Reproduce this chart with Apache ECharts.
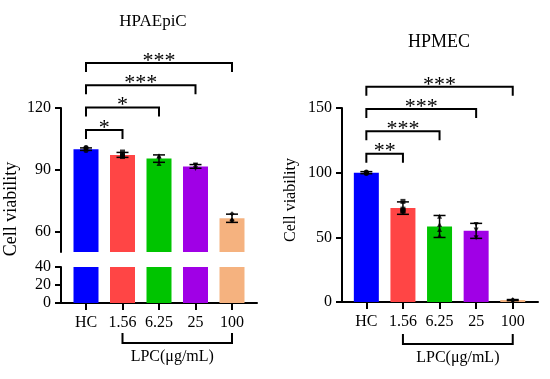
<!DOCTYPE html>
<html><head><meta charset="utf-8">
<script src="https://cdn.jsdelivr.net/npm/echarts@6/dist/echarts.min.js"></script>
<style>html,body{margin:0;padding:0;background:#fff}#c{width:550px;height:379px}</style>
</head><body><div id="c"></div>
<script>
// ---- data ----
const categories = ['HC', '1.56', '6.25', '25', '100'];
const xName = 'LPC(μg/mL)';
const yName = 'Cell viability';
// HPAEpiC
const epiTitle = 'HPAEpiC';
const epiMeans = [100.0, 97.2, 95.4, 91.6, 66.4];
const epiSD = [0.6, 1.2, 1.8, 0.9, 2.0];
const epiPoints = [[100.8, 100.5, 99.3], [98.6, 96.8, 96.4], [96.8, 96.5, 93.0], [92.3, 92.0, 90.6], [68.6, 65.6, 65.2]];
const epiUpperTicks = [60, 90, 120];
const epiLowerTicks = [0, 20, 40];
const epiSig = [[0, 1, '*'], [0, 2, '*'], [0, 3, '***'], [0, 4, '***']];
// HPMEC
const mecTitle = 'HPMEC';
const mecMeans = [100.0, 72.6, 58.4, 55.0, 1.5];
const mecSD = [0.8, 4.8, 8.5, 5.8, 0.4];
const mecPoints = [[100.6, 100.2, 99.7, 99.4], [77.8, 71.8, 70.6, 70.2], [66.3, 60.0, 56.0, 51.4], [60.0, 55.6, 49.6], [1.8, 1.4, 1.2]];
const mecTicks = [0, 50, 100, 150];
const mecSig = [[0, 1, '**'], [0, 2, '***'], [0, 3, '***'], [0, 4, '***']];

// ---- style ----
const colors = ['#0000ff', '#ff4545', '#00c400', '#a000e6', '#f5b27f'];
const symbols = [['circle', 0], ['rect', 0], ['triangle', 0], ['triangle', 180], ['diamond', 0]];
const FONT = '"Liberation Serif", "Times New Roman", serif';
const catIdx = categories.map((c, i) => i);

function xAxisCfg(gridIndex, min, max, show) {
  return {
    type: 'value', gridIndex, min, max, show,
    axisLine: { show, onZero: false, lineStyle: { color: '#000', width: 2 } },
    axisTick: { show, customValues: catIdx, length: 7, lineStyle: { color: '#000', width: 2 } },
    axisLabel: { show, customValues: catIdx, margin: 12, formatter: v => categories[Math.round(v)],
      fontFamily: FONT, fontSize: 16, color: '#000' },
    splitLine: { show: false }
  };
}
function yAxisCfg(gridIndex, min, max, ticks) {
  return {
    type: 'value', gridIndex, min, max,
    axisLine: { show: true, onZero: false, lineStyle: { color: '#000', width: 2 } },
    axisTick: { show: true, customValues: ticks, length: 6, lineStyle: { color: '#000', width: 2 } },
    axisLabel: { customValues: ticks, margin: 10, fontFamily: FONT, fontSize: 16, color: '#000' },
    splitLine: { show: false }
  };
}
function barSeries(xi, yi, means) {
  return {
    type: 'bar', xAxisIndex: xi, yAxisIndex: yi, barWidth: 25, clip: true, silent: true,
    data: means.map((v, i) => ({ value: [i, v], itemStyle: { color: colors[i] } }))
  };
}
function errSeries(xi, yi, means, sd) {
  return {
    type: 'custom', xAxisIndex: xi, yAxisIndex: yi, silent: true, z: 5,
    data: means.map((m, i) => [i, m, sd[i]]),
    renderItem: function (params, api) {
      const x = api.value(0), m = api.value(1), s = api.value(2);
      const t = api.coord([x, m + s]), b = api.coord([x, m - s]);
      const st = { stroke: '#000', lineWidth: 1.5 };
      return { type: 'group', children: [
        { type: 'line', shape: { x1: t[0], y1: t[1], x2: b[0], y2: b[1] }, style: st },
        { type: 'line', shape: { x1: t[0] - 6, y1: t[1], x2: t[0] + 6, y2: t[1] }, style: st },
        { type: 'line', shape: { x1: b[0] - 6, y1: b[1], x2: b[0] + 6, y2: b[1] }, style: st }
      ] };
    }
  };
}
function pointSeries(xi, yi, pts) {
  const data = [];
  pts.forEach((arr, i) => arr.forEach(v => data.push({
    value: [i, v], symbol: symbols[i][0], symbolRotate: symbols[i][1]
  })));
  return { type: 'scatter', xAxisIndex: xi, yAxisIndex: yi, symbolSize: 5, silent: true, z: 6,
    itemStyle: { color: '#000' }, data };
}
function sigSeries(xi, yi, sig, means, sd) {
  const top = Math.max(...means.map((m, i) => m + sd[i]));
  return {
    type: 'custom', xAxisIndex: xi, yAxisIndex: yi, silent: true, clip: false, z: 7,
    data: sig.map((s, k) => [s[0], s[1], k]),
    renderItem: function (params, api) {
      const a = api.value(0), b = api.value(1), k = api.value(2);
      const label = sig[k][2];
      const base = api.coord([0, top])[1] - 18;
      const y = base - k * 22.3;
      const xa = api.coord([a, top])[0], xb = api.coord([b, top])[0];
      const st = { stroke: '#000', lineWidth: 2, fill: null };
      return { type: 'group', children: [
        { type: 'polyline', shape: { points: [[xa, y + 9], [xa, y], [xb, y], [xb, y + 9]] }, style: st },
        { type: 'text', style: { text: label, x: (xa + xb) / 2, y: y - 2, fill: '#000',
          font: '22px ' + FONT, align: 'center', verticalAlign: 'middle',
          textAlign: 'center', textVerticalAlign: 'middle' } }
      ] };
    }
  };
}
function groupSeries(xi, yi, dx, dy) {
  return {
    type: 'custom', xAxisIndex: xi, yAxisIndex: yi, silent: true, clip: false, z: 7,
    data: [[1, 4]],
    renderItem: function (params, api) {
      const a = api.coord([api.value(0), 0]), b = api.coord([api.value(1), 0]);
      const y0 = a[1];
      const st = { stroke: '#000', lineWidth: 2, fill: null };
      return { type: 'group', children: [
        { type: 'polyline', shape: { points: [[a[0], y0 + dy - 10], [a[0], y0 + dy], [b[0], y0 + dy], [b[0], y0 + dy - 10]] }, style: st },
        { type: 'text', style: { text: xName, x: (a[0] + b[0]) / 2 + dx, y: y0 + dy + 14, fill: '#000',
          font: '16px ' + FONT, align: 'center', verticalAlign: 'middle',
          textAlign: 'center', textVerticalAlign: 'middle' } }
      ] };
    }
  };
}

const chart = echarts.init(document.getElementById('c'), null, { renderer: 'canvas' });
chart.setOption({
  animation: false,
  backgroundColor: '#fff',
  grid: [
    { left: 61, top: 108, width: 196, height: 144 },   // HPAEpiC upper
    { left: 61, top: 267, width: 196, height: 36 },    // HPAEpiC lower
    { left: 342, top: 108, width: 196, height: 194 }   // HPMEC
  ],
  xAxis: [
    xAxisCfg(0, -0.685, 4.685, false),
    xAxisCfg(1, -0.685, 4.685, true),
    xAxisCfg(2, -0.665, 4.69, true)
  ],
  yAxis: [
    yAxisCfg(0, 50, 120, epiUpperTicks),
    yAxisCfg(1, 0, 40, epiLowerTicks),
    yAxisCfg(2, 0, 150, mecTicks)
  ],
  graphic: [
    { type: 'text', x: 153, y: 22, style: { text: epiTitle, font: '17px ' + FONT, fill: '#000', align: 'center', verticalAlign: 'middle' } },
    { type: 'text', x: 439, y: 42, style: { text: mecTitle, font: '18px ' + FONT, fill: '#000', align: 'center', verticalAlign: 'middle' } },
    { type: 'text', x: 11, y: 209, rotation: Math.PI / 2, style: { text: yName, font: '18px ' + FONT, fill: '#000', align: 'center', verticalAlign: 'middle' } },
    { type: 'text', x: 291, y: 200, rotation: Math.PI / 2, style: { text: yName, font: '16px ' + FONT, fill: '#000', align: 'center', verticalAlign: 'middle' } }
  ],
  series: [
    barSeries(0, 0, epiMeans),
    barSeries(1, 1, epiMeans),
    errSeries(0, 0, epiMeans, epiSD),
    pointSeries(0, 0, epiPoints),
    sigSeries(0, 0, epiSig, epiMeans, epiSD),
    groupSeries(1, 1, -5, 40),
    barSeries(2, 2, mecMeans),
    errSeries(2, 2, mecMeans, mecSD),
    pointSeries(2, 2, mecPoints),
    sigSeries(2, 2, mecSig, mecMeans, mecSD),
    groupSeries(2, 2, 0, 42)
  ]
});
</script></body></html>
